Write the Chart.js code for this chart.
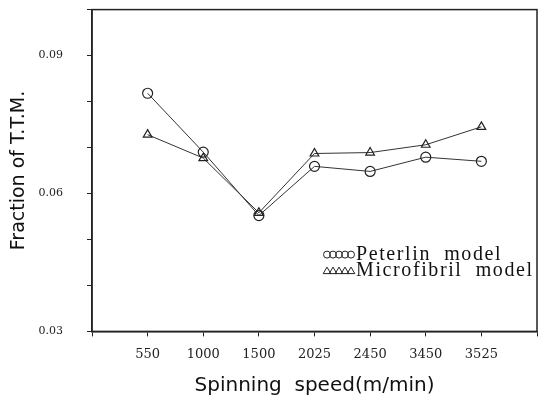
<!DOCTYPE html>
<html>
<head>
<meta charset="utf-8">
<script src="https://cdn.jsdelivr.net/npm/chart.js@4.4.0/dist/chart.umd.min.js"></script>
<style>
  html, body { margin: 0; padding: 0; background: #fff; }
  #wrap { width: 547px; height: 400px; }
</style>
</head>
<body>
<div id="wrap"><canvas id="ttm"></canvas></div>
<script>
const speeds = ["550", "1000", "1500", "2025", "2450", "3450", "3525"];
const peterlin = [0.0818, 0.0690, 0.0552, 0.0659, 0.0648, 0.0679, 0.0670];
const microfibril = [0.0728, 0.0677, 0.0558, 0.0687, 0.0689, 0.0706, 0.0745];
const yLabels = ["0.03", "0.06", "0.09"];

const toPoints = arr => arr.map((v, i) => ({ x: i + 1, y: v }));
const ink = "#222";

// frame around the plot + the legend with its rows of little markers
const framePlugin = {
  id: "frame",
  afterDraw(chart) {
    const { ctx, chartArea: a } = chart;
    ctx.save();
    ctx.strokeStyle = ink;
    ctx.lineWidth = 1.5;
    ctx.strokeRect(a.left, a.top, a.right - a.left, a.bottom - a.top);

    const lx = a.left + 235, ly = a.top + 245;
    chart.data.datasets.forEach((ds, k) => {
      const y = ly + k * 16;
      ctx.lineWidth = 1;
      ctx.strokeStyle = ink;
      for (let j = 0; j < 5; j++) {
        const x = lx + j * 6;
        ctx.beginPath();
        if (ds.pointStyle === "triangle") {
          ctx.moveTo(x - 3.8, y + 3);
          ctx.lineTo(x, y - 3.5);
          ctx.lineTo(x + 3.8, y + 3);
          ctx.closePath();
        } else {
          ctx.arc(x, y, 3.5, 0, Math.PI * 2);
        }
        ctx.stroke();
      }
      ctx.fillStyle = "#111";
      ctx.font = "20px 'Liberation Serif'";
      ctx.letterSpacing = "1.6px";
      ctx.textBaseline = "middle";
      ctx.fillText(ds.label, lx + 29, y);
    });
    ctx.restore();
  }
};

new Chart(document.getElementById("ttm"), {
  type: "line",
  data: {
    datasets: [{
      label: "Peterlin  model",
      data: toPoints(peterlin),
      borderColor: "#333",
      borderWidth: 1,
      pointStyle: "circle",
      pointRadius: 5,
      pointBorderColor: ink,
      pointBackgroundColor: "rgba(255,255,255,0)",
      pointBorderWidth: 1.2,
      tension: 0
    }, {
      label: "Microfibril  model",
      data: toPoints(microfibril),
      borderColor: "#333",
      borderWidth: 1,
      pointStyle: "triangle",
      pointRadius: 5,
      pointBorderColor: ink,
      pointBackgroundColor: "rgba(255,255,255,0)",
      pointBorderWidth: 1.2,
      tension: 0
    }]
  },
  options: {
    responsive: true,
    maintainAspectRatio: false,
    animation: false,
    layout: { padding: { left: 8, right: 1, top: 7, bottom: 2 } },
    plugins: { legend: { display: false }, tooltip: { enabled: false } },
    scales: {
      x: {
        type: "linear",
        min: 0,
        max: 8,
        border: { color: ink, width: 1.5 },
        grid: { drawOnChartArea: false, tickLength: 5, color: ink },
        ticks: {
          stepSize: 1,
          autoSkip: false,
          padding: 10,
          color: "#222",
          font: { family: "DejaVu Serif", size: 13 },
          callback: v => speeds[v - 1] || ""
        },
        title: {
          display: true,
          text: "Spinning  speed(m/min)",
          color: "#111",
          font: { family: "DejaVu Sans", size: 20 },
          padding: { top: 2, bottom: 0 }
        }
      },
      y: {
        min: 0.03,
        max: 0.1,
        border: { color: ink, width: 1.5 },
        grid: { drawOnChartArea: false, tickLength: 5, color: ink },
        afterFit: scale => { scale.width = 84; },
        ticks: {
          stepSize: 0.01,
          autoSkip: false,
          padding: 3,
          color: "#222",
          font: { family: "DejaVu Serif", size: 11 },
          // trailing spaces keep the labels well away from the axis
          callback: v => {
            const s = v.toFixed(2);
            return yLabels.includes(s) ? s + "      " : "";
          }
        },
        title: {
          display: true,
          text: "Fraction of T.T.M.",
          color: "#111",
          font: { family: "DejaVu Sans", size: 19 },
          padding: { top: 0, bottom: 0 }
        }
      }
    }
  },
  plugins: [framePlugin]
});
</script>
</body>
</html>
